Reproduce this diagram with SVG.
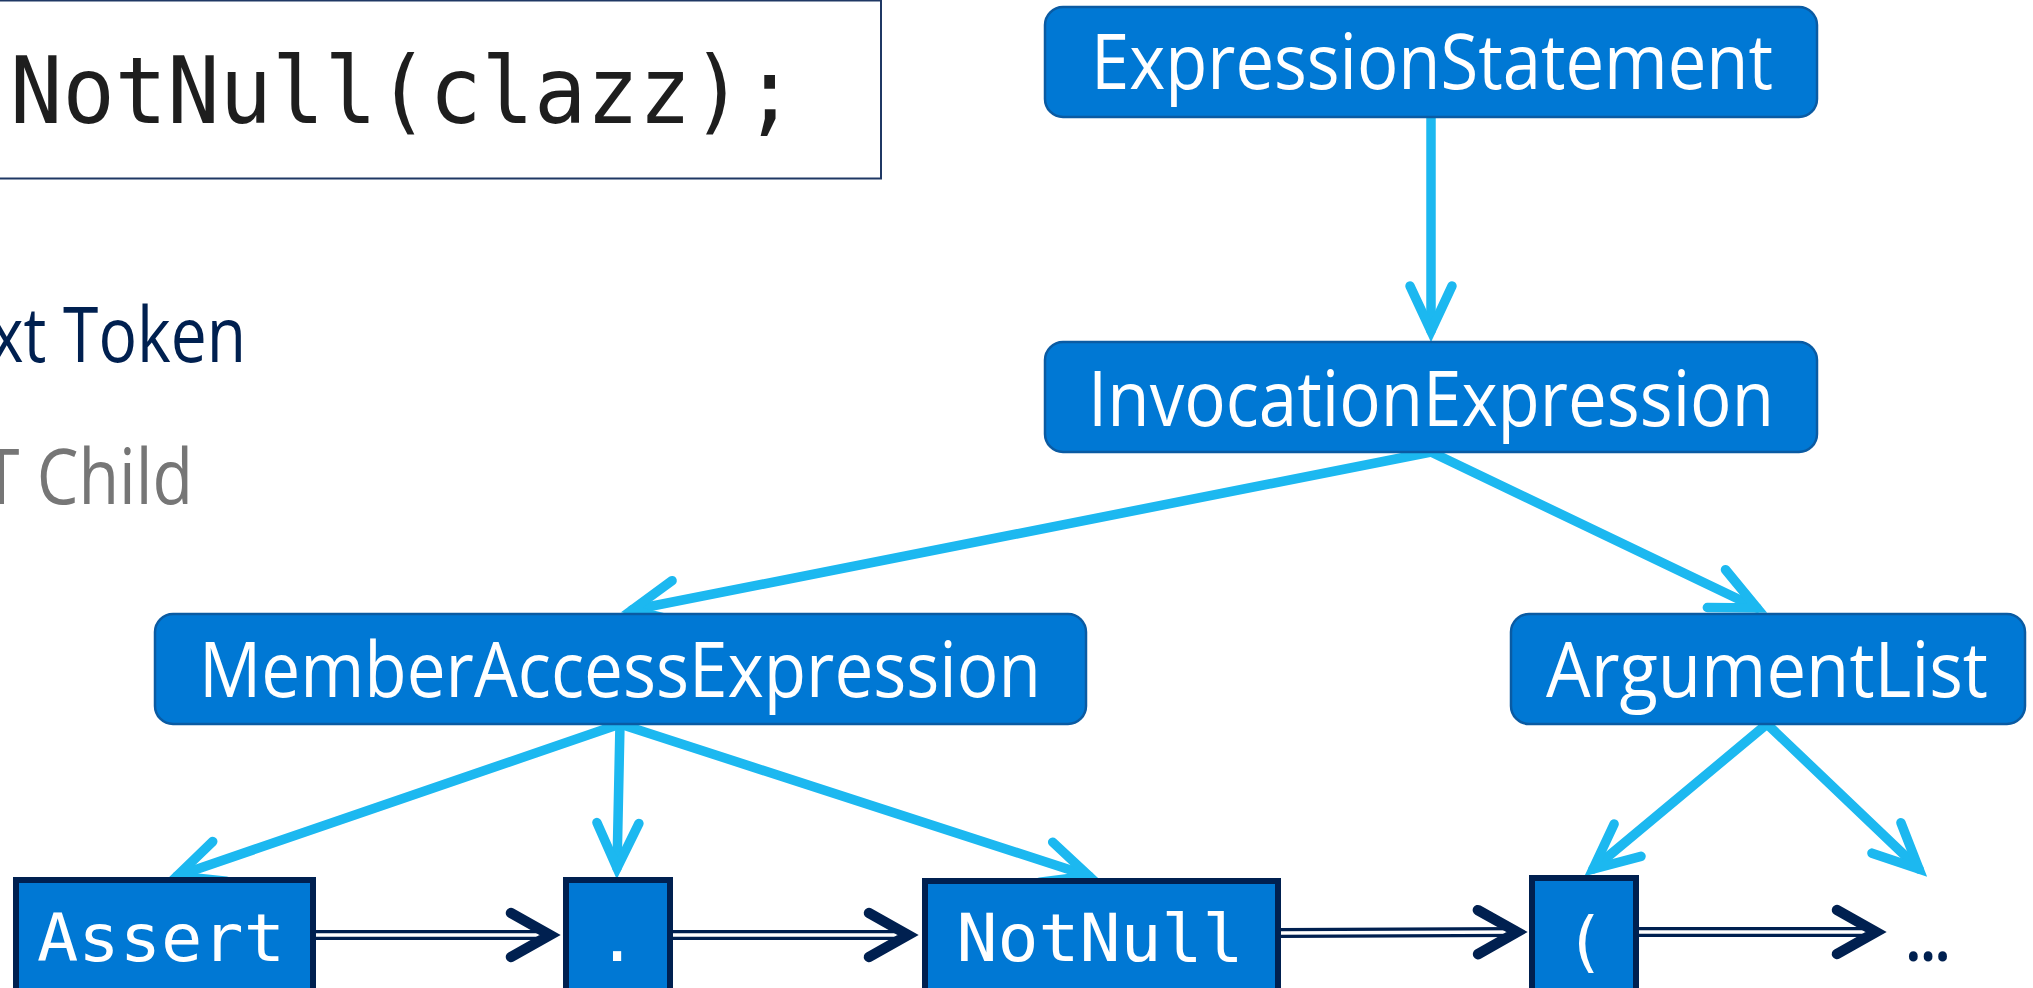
<svg xmlns="http://www.w3.org/2000/svg" width="2033" height="988" viewBox="0 0 2033 988">
  <style>
    .node rect { fill: #0078D4; stroke: #0A5BA3; stroke-width: 2.5; }
    .node text { font-family: "Open Sans", "Noto Sans", sans-serif; font-size: 76px; fill: #ffffff; text-anchor: middle; }
    .token rect { fill: #0078D4; stroke: #002050; stroke-width: 6; }
    .token text { font-family: "DejaVu Sans Mono", "Liberation Mono", monospace; font-size: 66px; fill: #ffffff; text-anchor: middle; }
    .tree { fill: none; stroke: #1CB8F0; stroke-width: 9.5; stroke-linecap: round; marker-end: url(#blueArrow); }
    .seqOuter { fill: none; stroke: #002050; stroke-width: 10; }
    .seqInner { fill: none; stroke: #ffffff; stroke-width: 3.5; marker-end: url(#navyArrow); }
    .legend { font-family: "Open Sans", "Noto Sans", sans-serif; font-size: 77px; }
  </style>
  <defs>
    <marker id="blueArrow" markerUnits="userSpaceOnUse" viewBox="-60 -40 80 80" markerWidth="80" markerHeight="80" refX="0" refY="0" orient="auto">
      <path d="M-45,-21 L0,0 L-45,21" fill="none" stroke="#1CB8F0" stroke-width="9.5" stroke-linecap="round" stroke-linejoin="miter"/>
    </marker>
    <marker id="navyArrow" markerUnits="userSpaceOnUse" viewBox="-60 -40 80 80" markerWidth="80" markerHeight="80" refX="0" refY="0" orient="auto">
      <path d="M-39,-22 L0,0 L-39,22" fill="none" stroke="#002050" stroke-width="10.5" stroke-linecap="round" stroke-linejoin="miter"/>
    </marker>
  </defs>

  <rect width="2033" height="988" fill="#ffffff"/>

  <g id="code">
    <rect x="-10" y="0.5" width="891" height="178" fill="#ffffff" stroke="#1F3864" stroke-width="2"/>
    <text x="10" y="123" font-family="DejaVu Sans Mono, Liberation Mono, monospace" font-size="93" fill="#1E1E1E" textLength="786" lengthAdjust="spacingAndGlyphs">NotNull(clazz);</text>
  </g>

  <g id="legend">
    <text class="legend" x="-10" y="362" fill="#002050" textLength="256" lengthAdjust="spacingAndGlyphs">xt Token</text>
    <text class="legend" x="-17" y="504" fill="#767676" textLength="210" lengthAdjust="spacingAndGlyphs">T Child</text>
  </g>

  <g id="connectors">
    <path class="tree" d="M1431,117 L1431,331"/>
    <path class="tree" d="M1431,452 L632,610"/>
    <path class="tree" d="M1431,452 L1757,608"/>
    <path class="tree" d="M620,724 L177,876"/>
    <path class="tree" d="M620,724 L617,868"/>
    <path class="tree" d="M620,724 L1089,876"/>
    <path class="tree" d="M1767,724 L1593,869"/>
    <path class="tree" d="M1767,724 L1919,869"/>

    <path class="seqOuter" d="M316,935 L550,935"/>
    <path class="seqInner" d="M316,935 L550,935"/>
    <path class="seqOuter" d="M673,935 L908,935"/>
    <path class="seqInner" d="M673,935 L908,935"/>
    <path class="seqOuter" d="M1281,933 L1517,932"/>
    <path class="seqInner" d="M1281,933 L1517,932"/>
    <path class="seqOuter" d="M1639,932 L1876,932"/>
    <path class="seqInner" d="M1639,932 L1876,932"/>
  </g>

  <g id="ExpressionStatement" class="node">
    <rect x="1045" y="7" width="772" height="110" rx="18"/>
    <text x="1432" y="89" textLength="682" lengthAdjust="spacingAndGlyphs">ExpressionStatement</text>
  </g>
  <g id="InvocationExpression" class="node">
    <rect x="1045" y="342" width="772" height="110" rx="18"/>
    <text x="1431" y="426" textLength="686" lengthAdjust="spacingAndGlyphs">InvocationExpression</text>
  </g>
  <g id="MemberAccessExpression" class="node">
    <rect x="155" y="614" width="931" height="110" rx="18"/>
    <text x="620" y="697" textLength="842" lengthAdjust="spacingAndGlyphs">MemberAccessExpression</text>
  </g>
  <g id="ArgumentList" class="node">
    <rect x="1511" y="614" width="514" height="110" rx="18"/>
    <text x="1767" y="697" textLength="442" lengthAdjust="spacingAndGlyphs">ArgumentList</text>
  </g>

  <g id="Assert" class="token">
    <rect x="16" y="880" width="297" height="130"/>
    <text x="161" y="961" textLength="248" lengthAdjust="spacingAndGlyphs">Assert</text>
  </g>
  <g id="Dot" class="token">
    <rect x="566" y="880" width="104" height="130"/>
    <text x="617" y="961">.</text>
  </g>
  <g id="NotNull" class="token">
    <rect x="925" y="881" width="353" height="130"/>
    <text x="1100" y="961" textLength="287" lengthAdjust="spacingAndGlyphs">NotNull</text>
  </g>
  <g id="OpenParen" class="token">
    <rect x="1532" y="878" width="104" height="130"/>
    <text x="1585" y="964">(</text>
  </g>
  <g id="Ellipsis">
    <text x="1906" y="961" font-family="Open Sans, Noto Sans, sans-serif" font-weight="700" font-size="60" fill="#002050" textLength="44" lengthAdjust="spacingAndGlyphs">...</text>
  </g>
</svg>
